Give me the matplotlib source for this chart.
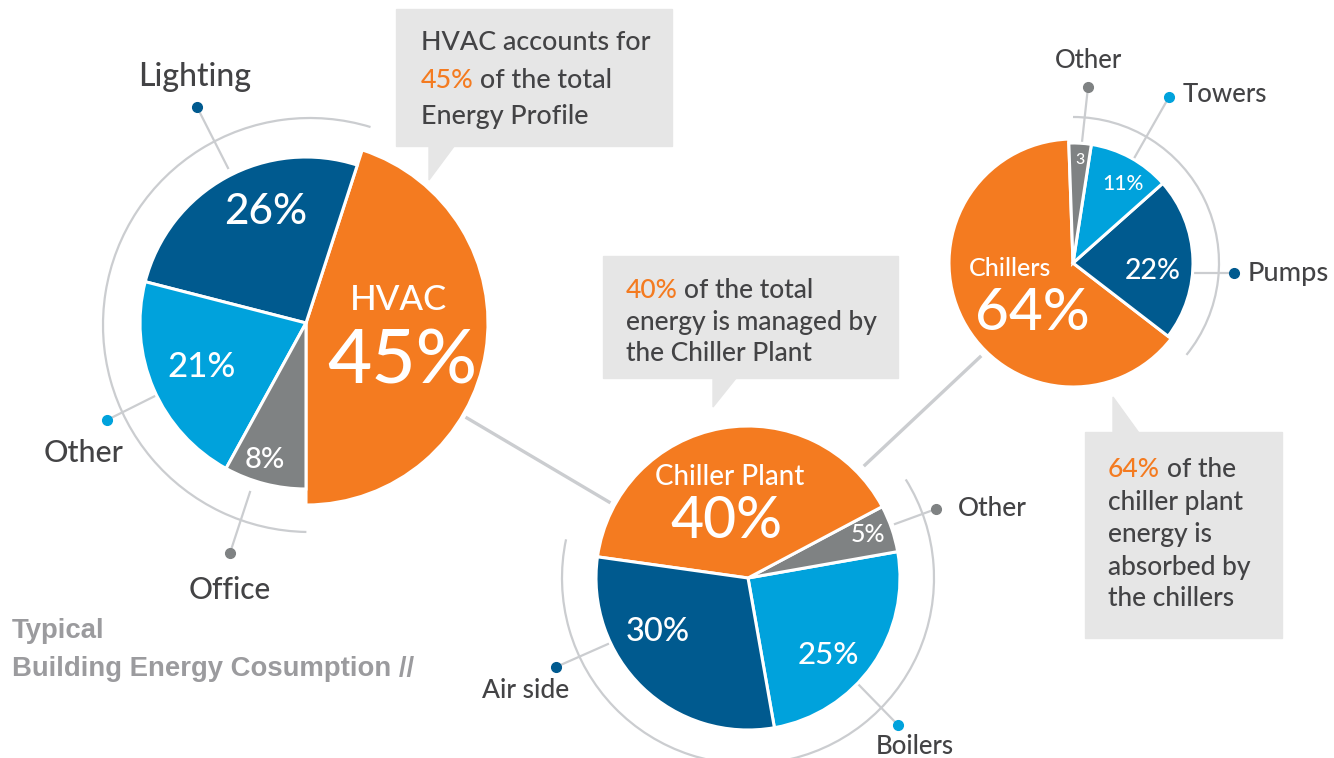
import matplotlib
matplotlib.use("Agg")
import matplotlib.pyplot as plt
from matplotlib.patches import Arc, Polygon, Rectangle

W, H = 1334, 758

## pie data
total_labels = ["HVAC", "Lighting", "Other", "Office"]
total_values = [45, 26, 21, 8]
plant_labels = ["Boilers", "Other", "Chiller Plant", "Air side"]
plant_values = [25, 5, 40, 30]
chiller_labels = ["Chillers", "Pumps", "Towers", "Other"]
chiller_values = [64, 22, 11, 3]

ORANGE = "#F47B20"
DARK = "#005A8F"
LIGHT = "#00A2DC"
GRAY = "#7F8283"
TEXT = "#434345"
LINE = "#CBCDD0"
BOX = "#E6E6E6"

plt.rcParams["font.family"] = ["Lato", "DejaVu Sans"]
plt.rcParams["font.weight"] = "medium"

fig = plt.figure(figsize=(W / 100, H / 100), dpi=100)
ax = fig.add_axes([0, 0, 1, 1])


def Y(y):
	# image rows run downwards, data y runs up
	return H - y


def draw_pie(values, colors, cx, cy, r, start):
	wedges, _ = ax.pie(values, colors=colors, startangle=start, counterclock=True,
					   center=(cx, Y(cy)), radius=r, frame=True,
					   wedgeprops=dict(edgecolor="white", linewidth=2.2))
	return wedges


def ring(cx, cy, r, t1, t2):
	ax.add_patch(Arc((cx, Y(cy)), 2 * r, 2 * r, theta1=t1, theta2=t2,
					 color=LINE, lw=1.6, zorder=0))


def pointer(x0, y0, x1, y1, color):
	ax.plot([x0, x1], [Y(y0), Y(y1)], color=LINE, lw=1.6, zorder=0)
	ax.plot([x1], [Y(y1)], "o", color=color, ms=7, zorder=3)


def label(x, y, s, size, ha="center", color=TEXT, **kw):
	ax.text(x, Y(y), s, fontsize=size, color=color, ha=ha, va="center", **kw)


## connectors between the pies
ax.plot([467, 609], [Y(418), Y(502)], color=LINE, lw=2.4, zorder=0)
ax.plot([865, 980], [Y(465), Y(357)], color=LINE, lw=2.4, zorder=0)

## pie 1 - total building
w1 = draw_pie(total_values, [ORANGE, DARK, LIGHT, GRAY], 306, 323, 166, -90)
w1[0].set_radius(182)
ring(310, 325, 207, 73, 269)
pointer(228, 168, 197, 107, DARK)
pointer(155, 396, 107, 420, LIGHT)
pointer(250, 492, 230, 553, GRAY)
label(195, 77, total_labels[1], 23)
label(84, 453, total_labels[2], 22)
label(230, 590, total_labels[3], 21.5)
label(266, 212, "%d%%" % total_values[1], 30.5, color="white")
label(202, 367, "%d%%" % total_values[2], 25, color="white")
label(265, 460, "%d%%" % total_values[3], 21, color="white")
label(398, 300, total_labels[0], 25, color="white")
label(402, 362, "%d%%" % total_values[0], 55, color="white")

## pie 2 - HVAC
w2 = draw_pie(plant_values, [LIGHT, GRAY, ORANGE, DARK], 748, 578, 152, -80)
ring(748, 578, 186, 168, 392)
pointer(895, 524, 936, 509, GRAY)
pointer(608, 644, 556, 667, DARK)
pointer(857, 683, 898, 725, LIGHT)
label(958, 508, plant_labels[1], 19, ha="left")
label(526, 691, plant_labels[3], 19)
label(915, 746, plant_labels[0], 18.5)
label(730, 477, plant_labels[2], 20, color="white")
label(726, 522, "%d%%" % plant_values[2], 41, color="white")
label(868, 534, "%d%%" % plant_values[1], 18, color="white")
label(658, 632, "%d%%" % plant_values[3], 23.5, color="white")
label(828, 655, "%d%%" % plant_values[0], 22.5, color="white")

## pie 3 - chiller plant
w3 = draw_pie(chiller_values, [ORANGE, DARK, LIGHT, GRAY], 1073, 263, 120, 92)
w3[0].set_radius(124)
ring(1073, 263, 146, -39, 90)
pointer(1082, 142, 1088, 87, GRAY)
pointer(1132, 162, 1169, 97, LIGHT)
pointer(1195, 273, 1234, 273, DARK)
label(1088, 61, chiller_labels[3], 18.5)
label(1183, 95, chiller_labels[2], 18.5, ha="left")
label(1248, 273, chiller_labels[1], 19.5, ha="left")
label(1010, 269, chiller_labels[0], 18, color="white")
label(1032, 313, "%d%%" % chiller_values[0], 42, color="white")
label(1153, 271, "%d%%" % chiller_values[1], 20.5, color="white")
label(1123, 184, "%d%%" % chiller_values[2], 15, color="white")
label(1080, 160, "%d" % chiller_values[3], 11.5, color="white")


## callout boxes
def callout(x0, y0, x1, y1, tri, lines, size, x_text, baselines):
	ax.add_patch(Rectangle((x0, Y(y1)), x1 - x0, y1 - y0, color=BOX, zorder=1))
	ax.add_patch(Polygon([(px, Y(py)) for px, py in tri], color=BOX, zorder=1))
	gap = size * 100 / 72 * 0.06
	for (hl, rest), yb in zip(lines, baselines):
		xs = x_text
		if hl:
			t = ax.text(x_text, Y(yb), hl, fontsize=size, color=ORANGE, va="baseline", zorder=2)
			fig.canvas.draw()
			bb = t.get_window_extent()
			xs = ax.transData.inverted().transform((bb.x1, bb.y0))[0] + gap
		ax.text(xs, Y(yb), rest, fontsize=size, color=TEXT, va="baseline", zorder=2)


callout(396, 9, 672, 146, [(429, 145), (455, 145), (429, 180)],
		[("", "HVAC accounts for"), ("45%", "of the total"), ("", "Energy Profile")],
		19.4, 421, [50, 88, 124])
callout(603, 256, 898, 378, [(713, 377), (737, 377), (713, 407)],
		[("40%", "of the total"), ("", "energy is managed by"), ("", "the Chiller Plant")],
		19, 626, [298, 330, 361])
callout(1085, 432, 1282, 638, [(1113, 433), (1139, 433), (1113, 397)],
		[("64%", "of the"), ("", "chiller plant"), ("", "energy is"),
		 ("", "absorbed by"), ("", "the chillers")],
		19, 1108, [477, 510, 542, 575, 606])

## title block
ax.text(12, Y(638), "Typical", fontsize=19.8, color="#9B9B9E", fontweight="bold",
		family="Liberation Sans", va="baseline")
ax.text(12, Y(676), "Building Energy Cosumption //", fontsize=19.8, color="#9B9B9E",
		fontweight="bold", family="Liberation Sans", va="baseline")

ax.set_xlim(0, W)
ax.set_ylim(0, H)
ax.set_aspect("equal")
ax.axis("off")
fig.savefig("out.png", dpi=100)
